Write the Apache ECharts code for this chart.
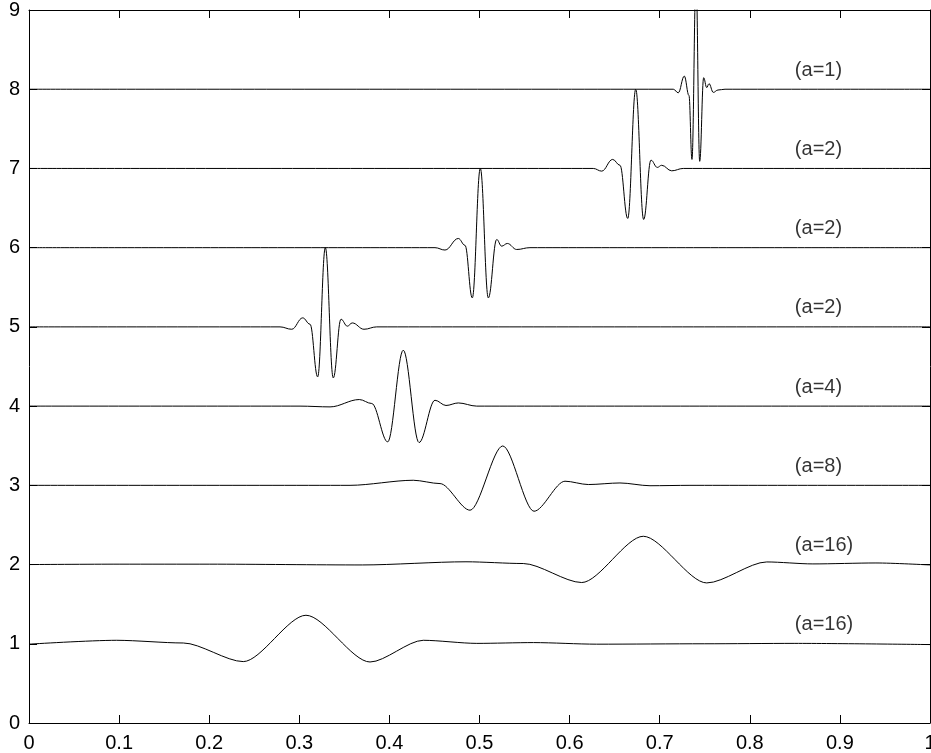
<!DOCTYPE html>
<html>
<head>
<meta charset="utf-8">
<script src="https://cdn.jsdelivr.net/npm/echarts@6/dist/echarts.min.js"></script>
<style>
html,body{margin:0;padding:0;background:#fff;}
#c{width:931px;height:753px;}
</style>
</head>
<body>
<div id="c"></div>
<script>
// Tick labels
const xTickLabels = ['0','0.1','0.2','0.3','0.4','0.5','0.6','0.7','0.8','0.9','1'];
const yTickLabels = ['0','1','2','3','4','5','6','7','8','9'];

// Curve labels and their baselines
const curveNames = ['(a=1)','(a=2)','(a=2)','(a=2)','(a=4)','(a=8)','(a=16)','(a=16)'];
const curveBases = [8,7,6,5,4,3,2,1];

// Curves (extrema and shoulders): [x, y]
const curveA1 = [[0,8],[0.7151,8],[0.7206,7.955],[0.7273,8.166],[0.7325,7.92],[0.7358,7.114],[0.7403,9.41],[0.7444,7.09],[0.7488,8.145],[0.7522,8.02],[0.7547,8.07],[0.7595,7.96],[0.7647,7.99],[0.7725,8],[1,8]];
const curveA2a = [[0,7],[0.6263,7],[0.6356,6.966],[0.6478,7.114],[0.6559,7.04],[0.6645,6.369],[0.6734,8.0],[0.6822,6.356],[0.6903,7.105],[0.6973,7.013],[0.7022,7.04],[0.7133,6.97],[0.7262,7.0],[1,7]];
const curveA2b = [[0,6],[0.4506,6],[0.4617,5.97],[0.4765,6.116],[0.4839,6.03],[0.4920,5.366],[0.5009,7.0],[0.5098,5.366],[0.5191,6.103],[0.5246,6.019],[0.5309,6.053],[0.5413,5.977],[0.5560,6],[1,6]];
const curveA2c = [[0,5],[0.2786,5],[0.2916,4.97],[0.3038,5.114],[0.3119,5.034],[0.3204,4.369],[0.3289,6.0],[0.3377,4.356],[0.3463,5.097],[0.3533,5.009],[0.3588,5.05],[0.3718,4.97],[0.3859,5],[1,5]];
const curveA4 = [[0,4],[0.3008,4],[0.3341,3.99],[0.3666,4.083],[0.3804,4.033],[0.3981,3.548],[0.4154,4.706],[0.4329,3.540],[0.4506,4.074],[0.4628,4.008],[0.4765,4.04],[0.4969,4.0],[1,4]];
const curveA8 = [[0,3],[0.3563,3.0],[0.4265,3.064],[0.4562,3.022],[0.4895,2.686],[0.5258,3.497],[0.5605,2.673],[0.5949,3.052],[0.6208,3.01],[0.6559,3.03],[0.6892,2.995],[0.7336,3.0],[1,3]];
const curveA16a = [[0,2],[0.1,2.005],[0.2,2.005],[0.37,1.995],[0.485,2.035],[0.5486,2.013],[0.6134,1.773],[0.6818,2.357],[0.7522,1.768],[0.8188,2.033],[0.8700,2.008],[0.94,2.02],[1,1.995]];
const curveA16b = [[0,0.995],[0.0973,1.044],[0.1713,1.01],[0.2378,0.775],[0.3074,1.36],[0.3785,0.770],[0.4376,1.044],[0.4970,1.005],[0.5600,1.015],[0.63,0.995],[0.75,1.0],[0.85,1.005],[1,0.99]];

const curves = [curveA1, curveA2a, curveA2b, curveA2c, curveA4, curveA8, curveA16a, curveA16b];
const curveSmooth = [0.4, 0.4, 0.4, 0.4, 0.35, 0.3, 0.28, 0.28];
const labelX = 0.85;
const labelLift = 0.24;

const FONT = '"Liberation Sans", Arial, Helvetica, sans-serif';

const chart = echarts.init(document.getElementById('c'), null, {renderer:'canvas'});

const series = curves.map((d, i) => ({
  type: 'line',
  data: d,
  smooth: curveSmooth[i],
  smoothMonotone: 'x',
  showSymbol: false,
  symbol: 'none',
  lineStyle: {color: '#000', width: 1},
  clip: true,
  silent: true
}));

series.push({
  type: 'scatter',
  symbolSize: 0,
  silent: true,
  data: curveNames.map((n, i) => ({name: n, value: [labelX, curveBases[i] + labelLift]})),
  label: {
    show: true,
    position: 'right',
    distance: 0,
    formatter: p => p.name,
    color: '#000',
    fontSize: 20,
    fontFamily: FONT
  }
});

const axisCommon = {
  axisLine: {show: true, onZero: false, lineStyle: {color: '#000', width: 1}},
  axisTick: {show: true, inside: true, length: 8, lineStyle: {color: '#000', width: 1}},
  splitLine: {show: false}
};

chart.setOption({
  animation: false,
  backgroundColor: '#fff',
  grid: {left: 29, right: 1, top: 10, bottom: 30, containLabel: false, outerBoundsMode: 'none'},
  xAxis: [
    Object.assign({
      type: 'value', min: 0, max: 1, interval: 0.1, position: 'bottom',
      axisLabel: {
        show: true, margin: 10, color: '#000', fontSize: 20, fontFamily: FONT,
        showMaxLabel: true, showMinLabel: true,
        formatter: v => xTickLabels[Math.round(v * 10)]
      }
    }, axisCommon),
    Object.assign({
      type: 'value', min: 0, max: 1, interval: 0.1, position: 'top',
      axisLabel: {show: false}
    }, axisCommon)
  ],
  yAxis: [
    Object.assign({
      type: 'value', min: 0, max: 9, interval: 1, position: 'left',
      axisLabel: {
        show: true, margin: 9, color: '#000', fontSize: 20, fontFamily: FONT,
        formatter: v => yTickLabels[Math.round(v)]
      }
    }, axisCommon),
    Object.assign({
      type: 'value', min: 0, max: 9, interval: 1, position: 'right',
      axisLabel: {show: false}
    }, axisCommon)
  ],
  series: series
});
</script>
</body>
</html>
